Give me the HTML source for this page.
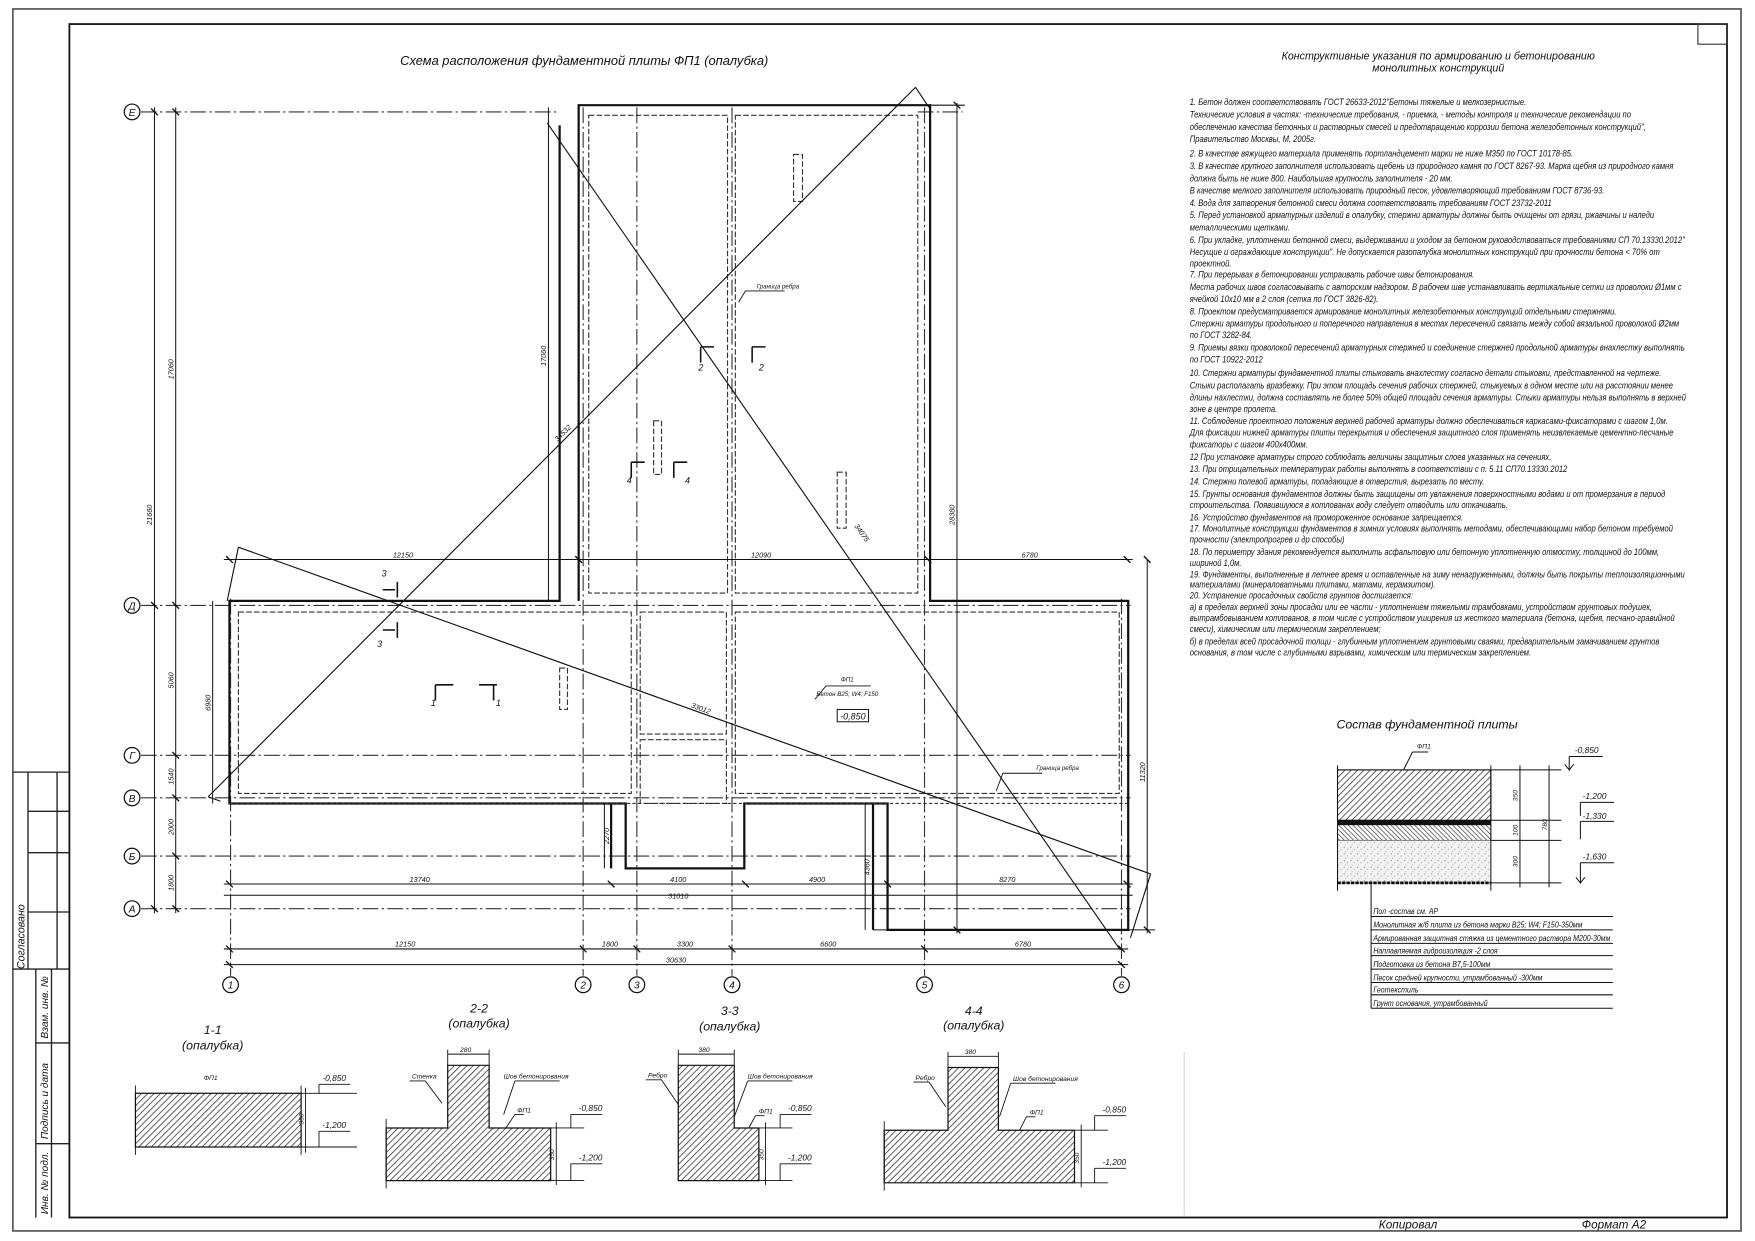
<!DOCTYPE html>
<html><head><meta charset="utf-8"><style>
html,body{margin:0;padding:0;background:#fff}
svg{display:block}
text{font-family:"Liberation Sans Narrow","Liberation Sans","DejaVu Sans",sans-serif;font-style:italic;fill:#111}
</style></head><body>
<svg width="1755" height="1241" viewBox="0 0 1568 1109" preserveAspectRatio="none" xmlns="http://www.w3.org/2000/svg">
<defs>
<pattern id="h" width="4" height="4" patternUnits="userSpaceOnUse" patternTransform="rotate(45)"><rect width="4" height="4" fill="#fff"/><line x1="0" y1="0" x2="0" y2="4" stroke="#222" stroke-width="1.3"/></pattern>
<pattern id="h2" width="3" height="3" patternUnits="userSpaceOnUse" patternTransform="rotate(-45)"><rect width="3" height="3" fill="#fff"/><line x1="0" y1="0" x2="0" y2="3" stroke="#333" stroke-width="1.2"/></pattern>
<pattern id="s" width="6" height="6" patternUnits="userSpaceOnUse"><rect width="6" height="6" fill="#f2f2f2"/><circle cx="1" cy="1" r=".5" fill="#777"/><circle cx="4" cy="3" r=".5" fill="#999"/><circle cx="2" cy="5" r=".4" fill="#888"/></pattern>
</defs>
<rect width="1568" height="1109" fill="#fff"/>
<rect x="11.5" y="8" width="1544" height="1092" fill="none" stroke="#555" stroke-width="1.5"/>
<rect x="62" y="21.5" width="1481" height="1066.5" fill="none" stroke="#111" stroke-width="1.6"/>
<rect x="1517" y="21.5" width="26" height="18" fill="none" stroke="#333" stroke-width="1"/>
<g stroke="#222" stroke-width="1.2" fill="none">
<line x1="11.5" y1="690" x2="62" y2="690"/>
<line x1="11.5" y1="866" x2="62" y2="866"/>
<line x1="25" y1="690" x2="25" y2="866"/>
<line x1="51" y1="690" x2="51" y2="866"/>
<line x1="25" y1="725" x2="62" y2="725"/>
<line x1="25" y1="762" x2="62" y2="762"/>
<line x1="25" y1="815" x2="62" y2="815"/>
<line x1="32" y1="866" x2="32" y2="1088"/>
<line x1="46" y1="866" x2="46" y2="1088"/>
<line x1="32" y1="932" x2="62" y2="932"/>
<line x1="32" y1="1022" x2="62" y2="1022"/>
</g>
<text transform="translate(22,866) rotate(-90)" font-size="9.5">Согласовано</text>
<text transform="translate(43,928) rotate(-90)" font-size="9">Взам. инв. №</text>
<text transform="translate(43,1018) rotate(-90)" font-size="9">Подпись и дата</text>
<text transform="translate(43,1085) rotate(-90)" font-size="9">Инв. № подл.</text>

<text x="522" y="58" font-size="11.5" text-anchor="middle">Схема расположения фундаментной плиты ФП1 (опалубка)</text>
<text x="1285" y="53" font-size="9.5" text-anchor="middle">Конструктивные указания по армированию и бетонированию</text>
<text x="1285" y="64" font-size="9.5" text-anchor="middle">монолитных конструкций</text>

<g stroke="#333" stroke-width="1" stroke-dasharray="14 3 2 3" fill="none">
<line x1="126" y1="100" x2="500" y2="100"/>
<line x1="820" y1="100" x2="860" y2="100"/>
<line x1="126" y1="541" x2="1010" y2="541"/>
<line x1="126" y1="675" x2="1010" y2="675"/>
<line x1="126" y1="713" x2="1010" y2="713"/>
<line x1="126" y1="765" x2="1010" y2="765"/>
<line x1="126" y1="812" x2="1010" y2="812"/>
<line x1="206" y1="535" x2="206" y2="872"/>
<line x1="521" y1="96" x2="521" y2="872"/>
<line x1="569" y1="96" x2="569" y2="872"/>
<line x1="654" y1="96" x2="654" y2="872"/>
<line x1="826" y1="96" x2="826" y2="872"/>
<line x1="1002" y1="535" x2="1002" y2="872"/>
</g>
<g fill="#fff" stroke="#111" stroke-width="1.1">
<circle cx="118" cy="100" r="7"/><circle cx="118" cy="541" r="7"/><circle cx="118" cy="675" r="7"/><circle cx="118" cy="713" r="7"/><circle cx="118" cy="765" r="7"/><circle cx="118" cy="812" r="7"/>
<circle cx="206" cy="880" r="7"/><circle cx="521" cy="880" r="7"/><circle cx="569" cy="880" r="7"/><circle cx="654" cy="880" r="7"/><circle cx="826" cy="880" r="7"/><circle cx="1002" cy="880" r="7"/>
</g>
<g font-size="9" text-anchor="middle">
<text x="118" y="103.5">Е</text><text x="118" y="544.5">Д</text><text x="118" y="678.5">Г</text><text x="118" y="716.5">В</text><text x="118" y="768.5">Б</text><text x="118" y="815.5">А</text>
<text x="206" y="883.5">1</text><text x="521" y="883.5">2</text><text x="569" y="883.5">3</text><text x="654" y="883.5">4</text><text x="826" y="883.5">5</text><text x="1002" y="883.5">6</text>
</g>

<g stroke="#111" stroke-width="2" fill="none">
<polyline points="500,112 500,537 205,537 205,718 559,718 559,776 665,776 665,718 793,718 793,831 1008,831 1008,537 831,537 831,94 517,94 517,537"/>
<line x1="546" y1="718" x2="546" y2="776"/>
<line x1="780" y1="718" x2="780" y2="831"/>
</g>
<g stroke="#333" stroke-width="1" stroke-dasharray="5 2" fill="none">
<rect x="526" y="103" width="124" height="427"/>
<rect x="657" y="103" width="163" height="427"/>
<rect x="213" y="547" width="351" height="162"/>
<rect x="572" y="547" width="77" height="109"/>
<rect x="572" y="661" width="77" height="57"/>
<rect x="657" y="547" width="343" height="162"/>
<rect x="709" y="138" width="8" height="42"/>
<rect x="584" y="376" width="7" height="48"/>
<rect x="748" y="422" width="8" height="50"/>
<rect x="500" y="597" width="7" height="37"/>
<line x1="205" y1="718" x2="1008" y2="718" stroke-dasharray="3 2"/>
</g>

<g stroke="#111" stroke-width="1" fill="none">
<line x1="186" y1="712" x2="818" y2="78"/>
<line x1="818" y1="78" x2="830" y2="96"/>
<line x1="489" y1="110" x2="1001" y2="849"/>
<line x1="213" y1="489" x2="1028" y2="781"/>
<line x1="213" y1="489" x2="203" y2="537"/>
<line x1="1028" y1="781" x2="1010" y2="838"/>
<line x1="186" y1="712" x2="197" y2="716"/>
</g>
<g font-size="6.5">
<text transform="translate(498,395) rotate(-45)">34532</text>
<text transform="translate(763,470) rotate(55)">34075</text>
<text transform="translate(617,632) rotate(20)">33012</text>
</g>

<g stroke="#111" stroke-width=".9" fill="none">
<line x1="138" y1="96" x2="138" y2="816"/>
<line x1="157" y1="96" x2="157" y2="816"/>
<line x1="490" y1="96" x2="490" y2="537"/>
<line x1="855" y1="92" x2="855" y2="834"/>
<line x1="1025" y1="500" x2="1025" y2="834"/>
<line x1="190" y1="537" x2="190" y2="718"/>
<line x1="200" y1="500" x2="1012" y2="500"/>
<line x1="200" y1="790" x2="1012" y2="790"/>
<line x1="200" y1="800" x2="1012" y2="800"/>
<line x1="200" y1="848" x2="1008" y2="848"/>
<line x1="200" y1="862" x2="1008" y2="862"/>
<line x1="773" y1="718" x2="773" y2="831"/>
<line x1="540" y1="718" x2="540" y2="776"/>
<line x1="780" y1="831" x2="1032" y2="831"/>
<line x1="831" y1="94" x2="862" y2="94"/>
</g>
<g stroke="#111" stroke-width="1.2">
<path d="M135,97l6,6M135,538l6,6M135,809l6,6M154,97l6,6M154,538l6,6M154,672l6,6M154,710l6,6M154,762l6,6M154,809l6,6M202,497l6,6M514,497l6,6M826,497l6,6M1004,497l6,6M202,787l6,6M543,787l6,6M663,787l6,6M790,787l6,6M1004,787l6,6M202,845l6,6M518,845l6,6M566,845l6,6M651,845l6,6M823,845l6,6M999,845l6,6M202,859l6,6M999,859l6,6M1022,497l6,6M1022,828l6,6M852,91l6,6M852,828l6,6"/>
</g>
<g font-size="6.5" text-anchor="middle">
<text x="360" y="498">12150</text><text x="680" y="498">12090</text><text x="920" y="498">6780</text>
<text x="375" y="788">13740</text><text x="606" y="788">4100</text><text x="730" y="788">4900</text><text x="900" y="788">8270</text>
<text x="606" y="803">31010</text>
<text x="362" y="846">12150</text><text x="545" y="846">1800</text><text x="612" y="846">3300</text><text x="740" y="846">6600</text><text x="914" y="846">6780</text>
<text x="604" y="860">30630</text>
<text transform="translate(136,460) rotate(-90)">21660</text>
<text transform="translate(155,330) rotate(-90)">17060</text>
<text transform="translate(155,608) rotate(-90)">5060</text>
<text transform="translate(155,694) rotate(-90)">1540</text>
<text transform="translate(155,739) rotate(-90)">2000</text>
<text transform="translate(155,789) rotate(-90)">1800</text>
<text transform="translate(188,628) rotate(-90)">6980</text>
<text transform="translate(488,318) rotate(-90)">17060</text>
<text transform="translate(853,460) rotate(-90)">28380</text>
<text transform="translate(1023,690) rotate(-90)">11320</text>
<text transform="translate(544,747) rotate(-90)">2270</text>
<text transform="translate(777,775) rotate(-90)">4360</text>
</g>
<g stroke="#111" stroke-width="1.4" fill="none">
<path d="M355,520v14M342,527h11M355,556v14M342,563h11M389,612h16M389,612v14M428,612h16M441,612v14M626,310h12M626,310v14M672,310v14M672,310h12M564,413v14M564,413h12M602,413v14M602,413h12"/>
</g>
<g font-size="8">
<text x="341" y="515">3</text><text x="337" y="578">3</text><text x="385" y="631">1</text><text x="443" y="631">1</text>
<text x="624" y="331">2</text><text x="678" y="331">2</text><text x="560" y="432">4</text><text x="612" y="432">4</text>
</g>
<g stroke="#111" stroke-width=".8" fill="none"><path d="M660,270l6,-10h35M890,707l6,-16h35M728,625l10,-12h40"/></g>
<text x="676" y="258" font-size="5.5">Граница ребра</text>
<text x="926" y="688" font-size="5.5">Граница ребра</text>
<text x="757" y="609" font-size="5.5" text-anchor="middle">ФП1</text>
<text x="757" y="622" font-size="5.5" text-anchor="middle">Бетон B25; W4; F150</text>
<rect x="748" y="634" width="28" height="11" fill="none" stroke="#111" stroke-width=".9"/>
<text x="762" y="643" font-size="8" text-anchor="middle">-0,850</text>

<g font-size="8.2" transform="translate(1063,0) scale(0.83,1)">
<text x="0" y="94">1. Бетон должен соответствовать ГОСТ 26633-2012"Бетоны тяжелые и мелкозернистые.</text>
<text x="0" y="105">Технические условия в частях: -технические требования, - приемка, - методы контроля и технические рекомендации по</text>
<text x="0" y="116">обеспечению качества бетонных и растворных смесей и предотвращению коррозии бетона железобетонных конструкций",</text>
<text x="0" y="127">Правительство Москвы, М, 2005г.</text>
<text x="0" y="140">2. В качестве вяжущего материала применять портландцемент марки не ниже М350 по ГОСТ 10178-85.</text>
<text x="0" y="151">3. В качестве крупного заполнителя использовать щебень из природного камня по ГОСТ 8267-93. Марка щебня из природного камня</text>
<text x="0" y="162">должна быть не ниже 800. Наибольшая крупность заполнителя - 20 мм.</text>
<text x="0" y="173">В качестве мелкого заполнителя использовать природный песок, удовлетворяющий требованиям ГОСТ 8736-93.</text>
<text x="0" y="184">4. Вода для затворения бетонной смеси должна соответствовать требованиям ГОСТ 23732-2011</text>
<text x="0" y="195">5. Перед установкой арматурных изделий в опалубку, стержни арматуры должны быть очищены от грязи, ржавчины и наледи</text>
<text x="0" y="206">металлическими щетками.</text>
<text x="0" y="217">6. При укладке, уплотнении бетонной смеси, выдерживании и уходом за бетоном руководствоваться требованиями СП 70.13330.2012"</text>
<text x="0" y="228">Несущие и ограждающие конструкции". Не допускается разопалубка монолитных конструкций при прочности бетона &lt; 70% от</text>
<text x="0" y="238">проектной.</text>
<text x="0" y="248">7. При перерывах в бетонировании устраивать рабочие швы бетонирования.</text>
<text x="0" y="259">Места рабочих швов согласовывать с авторским надзором. В рабочем шве устанавливать вертикальные сетки из проволоки Ø1мм с</text>
<text x="0" y="270">ячейкой 10х10 мм в 2 слоя (сетка по ГОСТ 3826-82).</text>
<text x="0" y="281">8. Проектом предусматривается армирование монолитных железобетонных конструкций отдельными стержнями.</text>
<text x="0" y="292">Стержни арматуры продольного и поперечного направления в местах пересечений связать между собой вязальной проволокой Ø2мм</text>
<text x="0" y="302">по ГОСТ 3282-84.</text>
<text x="0" y="313">9. Приемы вязки проволокой пересечений арматурных стержней и соединение стержней продольной арматуры внахлестку выполнять</text>
<text x="0" y="324">по ГОСТ 10922-2012</text>
<text x="0" y="336">10. Стержни арматуры фундаментной плиты стыковать внахлестку согласно детали стыковки, представленной на чертеже.</text>
<text x="0" y="347">Стыки располагать вразбежку. При этом площадь сечения рабочих стержней, стыкуемых в одном месте или на расстоянии менее</text>
<text x="0" y="358">длины нахлестки, должна составлять не более 50% общей площади сечения арматуры. Стыки арматуры нельзя выполнять в верхней</text>
<text x="0" y="368">зоне в центре пролета.</text>
<text x="0" y="379">11. Соблюдение проектного положения верхней рабочей арматуры должно обеспечиваться каркасами-фиксаторами с шагом 1,0м.</text>
<text x="0" y="389">Для фиксации нижней арматуры плиты перекрытия и обеспечения защитного слоя применять неизвлекаемые цементно-песчаные</text>
<text x="0" y="400">фиксаторы с шагом 400х400мм.</text>
<text x="0" y="411">12 При установке арматуры строго соблюдать величины защитных слоев указанных на сечениях.</text>
<text x="0" y="422">13. При отрицательных температурах работы выполнять в соответствии с п. 5.11 СП70.13330.2012</text>
<text x="0" y="433">14. Стержни полевой арматуры, попадающие в отверстия, вырезать по месту.</text>
<text x="0" y="444">15. Грунты основания фундаментов должны быть защищены от увлажнения поверхностными водами и от промерзания в период</text>
<text x="0" y="454">строительства. Появившуюся в котлованах воду следует отводить или откачивать.</text>
<text x="0" y="465">16. Устройство фундаментов на промороженное основание запрещается.</text>
<text x="0" y="475">17. Монолитные конструкции фундаментов в зимних условиях выполнять методами, обеспечивающими набор бетоном требуемой</text>
<text x="0" y="485">прочности (электропрогрев и др способы)</text>
<text x="0" y="496">18. По периметру здания рекомендуется выполнить асфальтовую или бетонную уплотненную отмостку, толщиной до 100мм,</text>
<text x="0" y="506">шириной 1,0м.</text>
<text x="0" y="516">19. Фундаменты, выполненные в летнее время и оставленные на зиму ненагруженными, должны быть покрыты теплоизоляционными</text>
<text x="0" y="525">материалами (минераловатными плитами, матами, керамзитом).</text>
<text x="0" y="535">20. Устранение просадочных свойств грунтов достигается:</text>
<text x="0" y="545">а) в пределах верхней зоны просадки или ее части - уплотнением тяжелыми трамбовками, устройством грунтовых подушек,</text>
<text x="0" y="555">вытрамбовыванием котлованов, в том числе с устройством уширения из жесткого материала (бетона, щебня, песчано-гравийной</text>
<text x="0" y="565">смеси), химическим или термическим закреплением;</text>
<text x="0" y="576">б) в пределах всей просадочной толщи - глубинным уплотнением грунтовыми сваями, предварительным замачиванием грунтов</text>
<text x="0" y="586">основания, в том числе с глубинными взрывами, химическим или термическим закреплением.</text>
</g>

<text x="1275" y="651" font-size="11" text-anchor="middle">Состав фундаментной плиты</text>
<rect x="1195" y="688" width="137" height="45" fill="url(#h)" stroke="#111" stroke-width="1"/>
<rect x="1195" y="733" width="137" height="4" fill="#111"/>
<rect x="1195" y="737" width="137" height="14" fill="url(#h2)" stroke="#111" stroke-width=".8"/>
<rect x="1195" y="751" width="137" height="38" fill="url(#s)" stroke="#666" stroke-width=".6"/>
<line x1="1195" y1="789" x2="1332" y2="789" stroke="#111" stroke-width="2.5" stroke-dasharray="3 1"/>
<g stroke="#111" stroke-width=".9" fill="none">
<line x1="1195" y1="684" x2="1195" y2="796"/><line x1="1332" y1="684" x2="1332" y2="796"/>
<line x1="1332" y1="688" x2="1395" y2="688"/><line x1="1332" y1="733" x2="1395" y2="733"/><line x1="1332" y1="751" x2="1395" y2="751"/><line x1="1332" y1="789" x2="1395" y2="789"/>
<line x1="1358" y1="684" x2="1358" y2="793"/><line x1="1384" y1="684" x2="1384" y2="793"/>
<path d="M1402,676h30M1402,676v12l-4,-5M1402,688l4,-5M1412,717h30M1412,717v12M1412,734h30M1412,734v16M1412,771h30M1412,771v18l-4,-5M1412,789l4,-5"/>
<path d="M1262,672h14M1262,672l-8,16"/>
<path d="M1225,789v112M1225,819h216M1225,831h216M1225,843h216M1225,854h216M1225,866h216M1225,878h216M1225,889h216M1225,901h216"/>
</g>
<g font-size="7.5">
<text x="1407" y="673">-0,850</text><text x="1414" y="714">-1,200</text><text x="1414" y="732">-1,330</text><text x="1414" y="768">-1,630</text>
<text x="1266" y="669" font-size="6">ФП1</text>
<text transform="translate(1356,716) rotate(-90)" font-size="6">350</text>
<text transform="translate(1356,747) rotate(-90)" font-size="6">100</text>
<text transform="translate(1356,775) rotate(-90)" font-size="6">300</text>
<text transform="translate(1382,742) rotate(-90)" font-size="6">780</text>
</g>
<g font-size="7.3" transform="translate(1227,0) scale(0.86,1)">
<text x="0" y="817">Пол -состав см. АР</text>
<text x="0" y="829">Монолитная ж/б плита из бетона марки B25; W4; F150-350мм</text>
<text x="0" y="841">Армированная защитная стяжка из цементного раствора М200-30мм</text>
<text x="0" y="852">Наплавляемая гидроизоляция -2 слоя</text>
<text x="0" y="864">Подготовка из бетона B7,5-100мм</text>
<text x="0" y="876">Песок средней крупности, утрамбованный -300мм</text>
<text x="0" y="887">Геотекстиль</text>
<text x="0" y="899">Грунт основания, утрамбованный</text>
</g>

<g font-size="11" text-anchor="middle">
<text x="190" y="924">1-1</text><text x="190" y="938">(опалубка)</text>
<text x="428" y="905">2-2</text><text x="428" y="918">(опалубка)</text>
<text x="652" y="907">3-3</text><text x="652" y="921">(опалубка)</text>
<text x="870" y="907">4-4</text><text x="870" y="920">(опалубка)</text>
</g>
<g stroke="#111" stroke-width="1.1">
<rect x="121" y="977" width="148" height="48" fill="url(#h)"/>
<path d="M400,952h37v56h55v47h-147v-47h55z" fill="url(#h)"/>
<path d="M606,952h50v56h22v47h-72z" fill="url(#h)"/>
<path d="M847,954h45v56h68v47h-170v-47h57z" fill="url(#h)"/>
</g>
<g stroke="#111" stroke-width=".8" fill="none">
<path d="M121,970v62M269,970v62M269,977h50M269,1025h50M273,972v58M285,969h28M285,969v8M285,1011h28M285,1011v14"/>
<path d="M345,1000v62M492,1008h30M492,1055h30M497,1003v56M510,996h28M510,996v12M510,1040h28M510,1040v15M400,942h37M400,938v14M437,938v14M366,966h14l15,20M460,966h40M460,966l-10,30M468,996h-8l-8,12"/>
<path d="M678,1008h30M678,1055h30M684,1003v56M697,996h28M697,996v12M697,1040h28M697,1040v15M606,942h50M606,938v14M656,938v14M577,965h14l15,22M668,966h40M668,966l-12,32M683,997h-8l-6,11"/>
<path d="M790,1002v62M960,1010h30M960,1057h30M966,1005v56M978,997h28M978,997v13M978,1044h28M978,1044v13M847,944h45M847,940v14M892,940v14M816,967h14l15,22M903,968h40M903,968l-10,30M925,998h-8l-6,12"/>
</g>
<g font-size="6">
<text x="182" y="965">ФП1</text><text x="288" y="966" font-size="7.5">-0,850</text><text x="288" y="1008" font-size="7.5">-1,200</text>
<text transform="translate(271,1005) rotate(-90)">350</text>
<text x="411" y="940">280</text><text x="368" y="964">Стенка</text><text x="450" y="964">Шов бетонирования</text><text x="462" y="994">ФП1</text>
<text x="517" y="993" font-size="7.5">-0,850</text><text x="517" y="1037" font-size="7.5">-1,200</text>
<text transform="translate(495,1037) rotate(-90)">350</text>
<text x="624" y="940">380</text><text x="579" y="963">Ребро</text><text x="668" y="964">Шов бетонирования</text><text x="678" y="995">ФП1</text>
<text x="704" y="993" font-size="7.5">-0,850</text><text x="704" y="1037" font-size="7.5">-1,200</text>
<text transform="translate(682,1037) rotate(-90)">350</text>
<text x="862" y="942">380</text><text x="818" y="965">Ребро</text><text x="905" y="966">Шов бетонирования</text><text x="920" y="996">ФП1</text>
<text x="985" y="994" font-size="7.5">-0,850</text><text x="985" y="1041" font-size="7.5">-1,200</text>
<text transform="translate(964,1040) rotate(-90)">350</text>
</g>

<line x1="1058" y1="940" x2="1058" y2="1086" stroke="#ccc" stroke-width=".8"/>
<text x="1258" y="1098" font-size="10.5" text-anchor="middle">Копировал</text>
<text x="1442" y="1098" font-size="10.5" text-anchor="middle">Формат А2</text>
</svg>
</body></html>
